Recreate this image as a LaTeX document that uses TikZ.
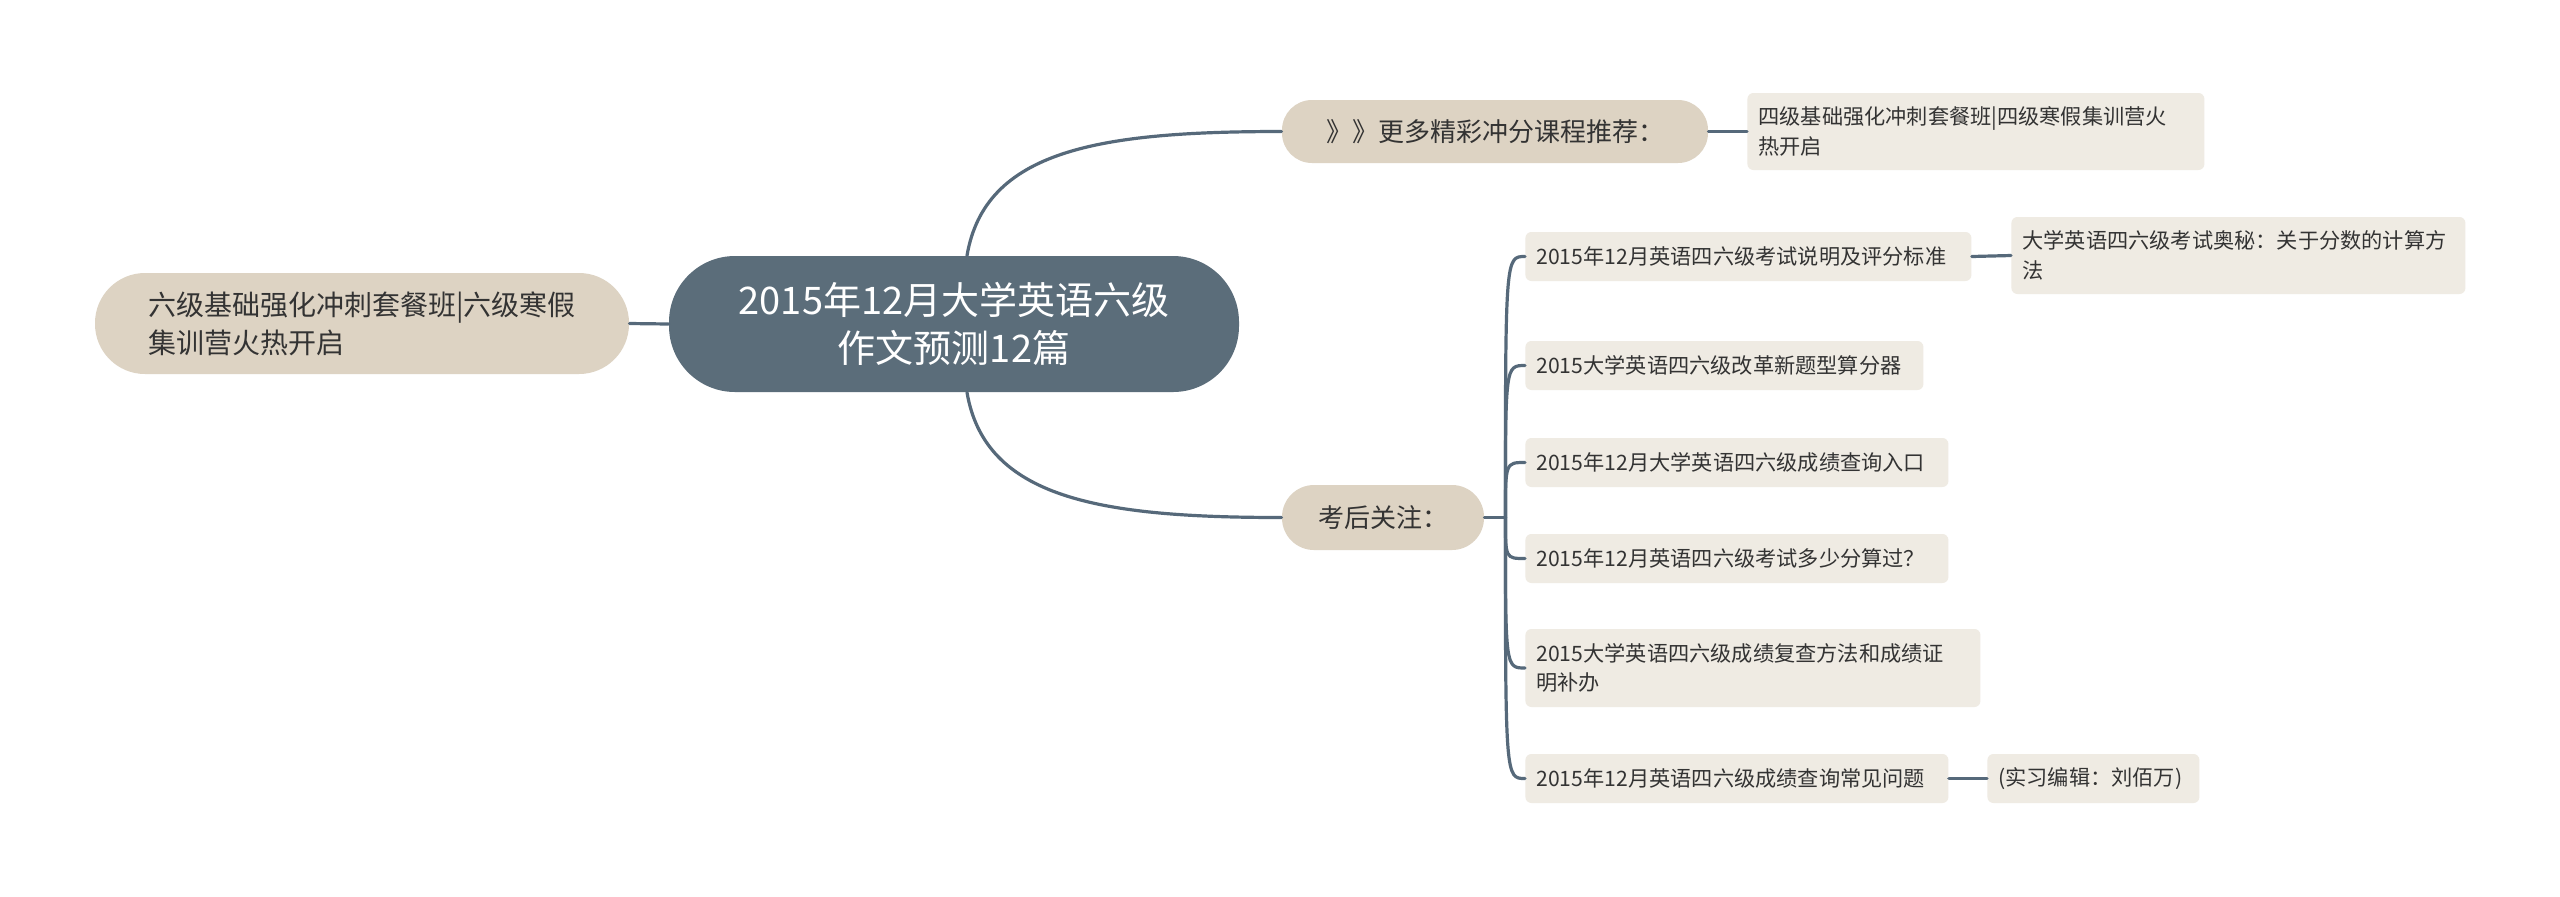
\documentclass[tikz,border=0pt]{standalone}
\usepackage{fontspec}
\setmainfont{Noto Sans CJK SC}
\usetikzlibrary{calc}

\definecolor{rootfill}{HTML}{5B6D7A}
\definecolor{branchfill}{HTML}{DDD3C3}
\definecolor{leaffill}{HTML}{EFEBE3}
\definecolor{linkcol}{HTML}{56697A}
\definecolor{inkcol}{HTML}{333333}

\begin{document}
\begin{tikzpicture}[x=0.5pt, y=0.5pt,
  rootbox/.style={fill=rootfill, text=white, rounded corners=33pt,
    minimum width=285pt, minimum height=68pt, inner sep=0pt, align=center,
    font=\fontsize{19}{23.7}\selectfont},
  branchbox/.style={fill=branchfill, text=inkcol, inner sep=0pt, align=left},
  leafbox/.style={fill=leaffill, text=inkcol, rounded corners=3pt,
    inner xsep=5.5pt, inner ysep=4pt, minimum height=24.5pt, align=left,
    anchor=west, font=\fontsize{10.6}{14.7}\selectfont},
  link/.style={draw=linkcol, line width=1.6pt, line cap=round}]
  % Canvas
  \fill[white] (0,0) rectangle (2560,-896);
  \useasboundingbox (0,0) rectangle (2560,-896);

  % Central topic
  \node[rootbox] (root) at (954,-324) {2015年12月大学英语六级\\作文预测12篇};

  % Left branch
  \node[branchbox, rounded corners=25pt, minimum width=267pt, minimum height=50.5pt,
    font=\fontsize{14}{18.8}\selectfont] (winter) at (362,-323.5)
    {六级基础强化冲刺套餐班|六级寒假\\集训营火热开启};

  % Right branches
  \node[branchbox, rounded corners=15pt, minimum width=213pt, minimum height=31.5pt,
    font=\fontsize{13}{16}\selectfont] (more) at (1495,-131.5) {》》更多精彩冲分课程推荐：};
  \node[branchbox, rounded corners=16pt, minimum width=101pt, minimum height=32.5pt,
    font=\fontsize{13}{16}\selectfont] (care) at (1383,-517.5) {考后关注：};

  % Leaves
  \node[leafbox, text width=217.5pt, minimum height=38.5pt] (fourth) at (1747,-131.5)
    {四级基础强化冲刺套餐班|四级寒假集训营火\\热开启};
  \node[leafbox, text width=212pt] (rules) at (1525,-256.5)
    {2015年12月英语四六级考试说明及评分标准};
  \node[leafbox, text width=216pt, minimum height=38.5pt] (secret) at (2011,-255.5)
    {大学英语四六级考试奥秘：关于分数的计算方\\法};
  \node[leafbox, text width=188pt] (scorer) at (1525,-365.5)
    {2015大学英语四六级改革新题型算分器};
  \node[leafbox, text width=200.5pt] (query) at (1525,-462.5)
    {2015年12月大学英语四六级成绩查询入口};
  \node[leafbox, text width=200.5pt] (pass) at (1525,-558.5)
    {2015年12月英语四六级考试多少分算过？};
  \node[leafbox, text width=216.5pt, minimum height=39pt] (review) at (1525,-668)
    {2015大学英语四六级成绩复查方法和成绩证\\明补办};
  \node[leafbox, text width=200.5pt] (faq) at (1525,-778.5)
    {2015年12月英语四六级成绩查询常见问题};
  \node[leafbox, text width=95pt] (editor) at (1987,-778.5) {(实习编辑：刘佰万)};

  % Links from the centre
  \coordinate (rt) at ($(root.north)+(13,0)$);
  \coordinate (rb) at ($(root.south)+(13,0)$);
  \draw[link] (winter.east) -- (root.west);
  \draw[link] (rt) .. controls ($(rt)+(18,106)$) and ($(more.west)+(-182,0)$) .. (more.west);
  \draw[link] (rb) .. controls ($(rb)+(18,-106)$) and ($(care.west)+(-182,0)$) .. (care.west);

  % Links to leaves
  \draw[link] (more.east) -- (fourth.west);
  \coordinate (fork) at ($(care.east)+(21,0)$);
  \draw[link] (care.east) -- (fork);
  \draw[link] (fork) .. controls (fork |- rules.west) .. (rules.west);
  \draw[link] (fork) .. controls (fork |- scorer.west) .. (scorer.west);
  \draw[link] (fork) .. controls (fork |- query.west) .. (query.west);
  \draw[link] (fork) .. controls (fork |- pass.west) .. (pass.west);
  \draw[link] (fork) .. controls (fork |- review.west) .. (review.west);
  \draw[link] (fork) .. controls (fork |- faq.west) .. (faq.west);
  \draw[link] (rules.east) -- (secret.west);
  \draw[link] (faq.east) -- (editor.west);
\end{tikzpicture}
\end{document}
